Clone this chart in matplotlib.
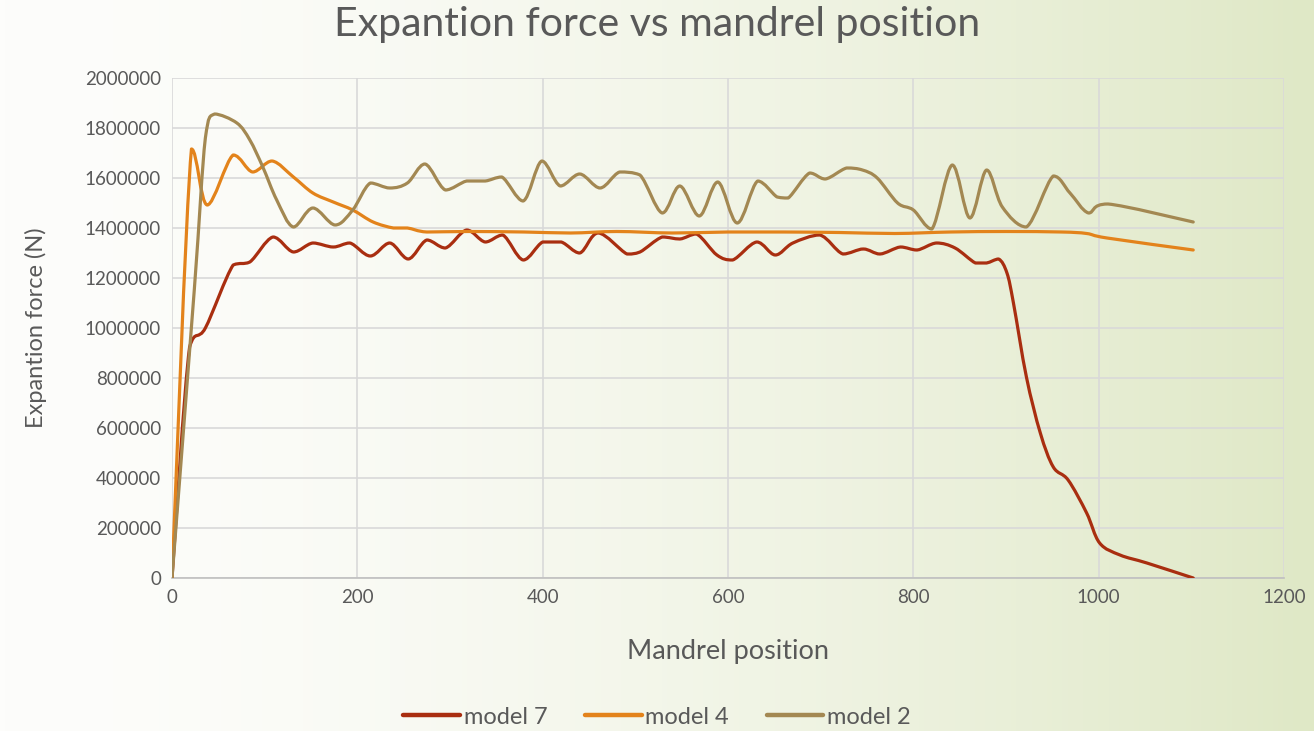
import numpy as np
import matplotlib.pyplot as plt
from matplotlib.path import Path
from matplotlib.patches import PathPatch
from matplotlib.lines import Line2D

plt.rcParams['font.family'] = ['Lato', 'DejaVu Sans']

# model 7 (red)
x7 = [0, 19, 36, 66, 84, 109, 131, 152, 174, 192, 214, 235, 255, 275, 295, 318, 338, 357, 379, 400,
      420, 440, 460, 491, 505, 529, 548, 566, 588, 605, 631, 651, 670, 699, 724, 746, 764, 786, 804, 825,
      845, 867, 879, 892, 901, 908, 922, 937, 951, 967, 987, 1001, 1023, 1052, 1102]
y7 = [0, 924000, 1000000, 1252000, 1264000, 1364000, 1304000, 1340000, 1324000, 1340000, 1288000,
      1340000, 1276000, 1352000, 1320000, 1392000, 1344000, 1372000, 1272000, 1344000,
      1344000, 1300000, 1380000, 1296000, 1304000, 1364000, 1356000, 1376000, 1292000, 1272000,
      1344000, 1292000, 1340000, 1372000, 1296000, 1316000, 1296000, 1324000, 1312000, 1340000,
      1320000, 1260000, 1260000, 1276000, 1220000, 1100000, 804000, 580000, 444000, 392000,
      260000, 140000, 92000, 60000, 0]

# model 4 (orange)
x4 = [0, 21, 38, 66, 87, 108, 131, 152, 174, 195, 217, 239, 254, 275, 320, 380, 430, 480, 540, 600,
      660, 720, 780, 840, 900, 960, 987, 1009, 1102]
y4 = [0, 1716000, 1492000, 1692000, 1624000, 1668000, 1604000, 1540000, 1504000, 1472000, 1424000,
      1400000, 1400000, 1384000, 1386000, 1384000, 1380000, 1386000, 1380000, 1384000,
      1384000, 1382000, 1378000, 1384000, 1386000, 1384000, 1378000, 1360000, 1312000]

# model 2 (tan)
x2 = [0, 24, 36, 46, 70, 84, 98, 113, 131, 152, 176, 195, 214, 235, 254, 273, 295, 318, 338, 356, 379, 399,
      419, 440, 462, 483, 505, 529, 548, 569, 589, 610, 632, 653, 665, 688, 705, 728, 745, 761, 783, 800,
      820, 842, 861, 879, 896, 922, 951, 969, 989, 1010, 1102]
y2 = [0, 1150000, 1760000, 1856000, 1820000, 1752000, 1644000, 1512000, 1404000, 1480000, 1412000, 1472000,
      1580000, 1560000, 1580000, 1656000, 1552000, 1588000, 1588000, 1604000, 1508000, 1668000,
      1568000, 1616000, 1560000, 1624000, 1612000, 1460000, 1568000, 1448000, 1584000, 1420000,
      1588000, 1524000, 1520000, 1620000, 1596000, 1640000, 1632000, 1600000, 1500000, 1472000,
      1396000, 1652000, 1440000, 1632000, 1484000, 1404000, 1608000, 1540000, 1460000, 1496000, 1424000]

series = [("model 7", x7, y7, "#A92E10"),
          ("model 4", x4, y4, "#E3831B"),
          ("model 2", x2, y2, "#A38852")]


def smooth_path(x, y):
    """Bezier path through the points, like a smoothed spreadsheet line.
    Control points are kept inside each segment's y range (no overshoot)."""
    p = np.column_stack([x, y]).astype(float)
    verts = [p[0]]
    codes = [Path.MOVETO]
    n = len(p)
    for i in range(n - 1):
        p0 = p[i - 1] if i > 0 else p[i]
        p3 = p[i + 2] if i + 2 < n else p[i + 1]
        c1 = p[i] + (p[i + 1] - p0) / 6.0
        c2 = p[i + 1] - (p3 - p[i]) / 6.0
        lo, hi = min(p[i][1], p[i + 1][1]), max(p[i][1], p[i + 1][1])
        c1[1] = np.clip(c1[1], lo, hi)
        c2[1] = np.clip(c2[1], lo, hi)
        verts += [c1, c2, p[i + 1]]
        codes += [Path.CURVE4] * 3
    return Path(verts, codes)


fig = plt.figure(figsize=(13.14, 7.31), dpi=100)

# background gradient
bg = fig.add_axes([0, 0, 1, 1], zorder=-10)
g = np.linspace(0, 1, 256) ** 1.6
c0 = np.array([253, 253, 251]) / 255
c1 = np.array([223, 232, 198]) / 255
img = c0[None, :] + (c1 - c0)[None, :] * g[:, None]
bg.imshow(img[None, :, :], aspect='auto', extent=[0, 1, 0, 1])
bg.axis('off')

ax = fig.add_axes([0.1309, 0.2093, 0.8463, 0.6840])
ax.patch.set_alpha(0)

handles = []
for name, x, y, col in series:
    patch = PathPatch(smooth_path(x, y), facecolor='none', edgecolor=col, lw=2.3,
                      capstyle='round', joinstyle='round', zorder=3)
    ax.add_patch(patch)
    handles.append(Line2D([], [], color=col, lw=3.2, solid_capstyle='round'))

ax.set_xlim(0, 1200)
ax.set_ylim(0, 2000000)
ax.set_xticks(np.arange(0, 1201, 200))
ax.set_yticks(np.arange(0, 2000001, 200000))
ax.set_yticklabels([str(v) for v in range(0, 2000001, 200000)])
ax.grid(True, color='#d9d9d9', lw=1.2)
ax.set_axisbelow(True)
for s in ['top', 'right', 'left']:
    ax.spines[s].set_visible(False)
ax.spines['bottom'].set_color('#bfbfbf')
ax.spines['bottom'].set_linewidth(1.2)
ax.tick_params(length=0, labelsize=13.5, labelcolor='#595959', pad=8)

ax.set_xlabel("Mandrel position", fontsize=19.5, color='#595959', labelpad=24)
ax.set_ylabel("Expantion force (N)", fontsize=17, color='#595959', labelpad=27)
fig.text(0.5, 0.967, "Expantion force vs mandrel position", ha='center', va='center',
         fontsize=29.5, color='#595959')

fig.legend(handles, [s[0] for s in series], loc='center', bbox_to_anchor=(0.5, 0.019),
           ncol=3, frameon=False, fontsize=17, labelcolor='#595959',
           handlelength=2.4, handletextpad=0.15, columnspacing=1.6)

fig.savefig("out.png", dpi=100)
